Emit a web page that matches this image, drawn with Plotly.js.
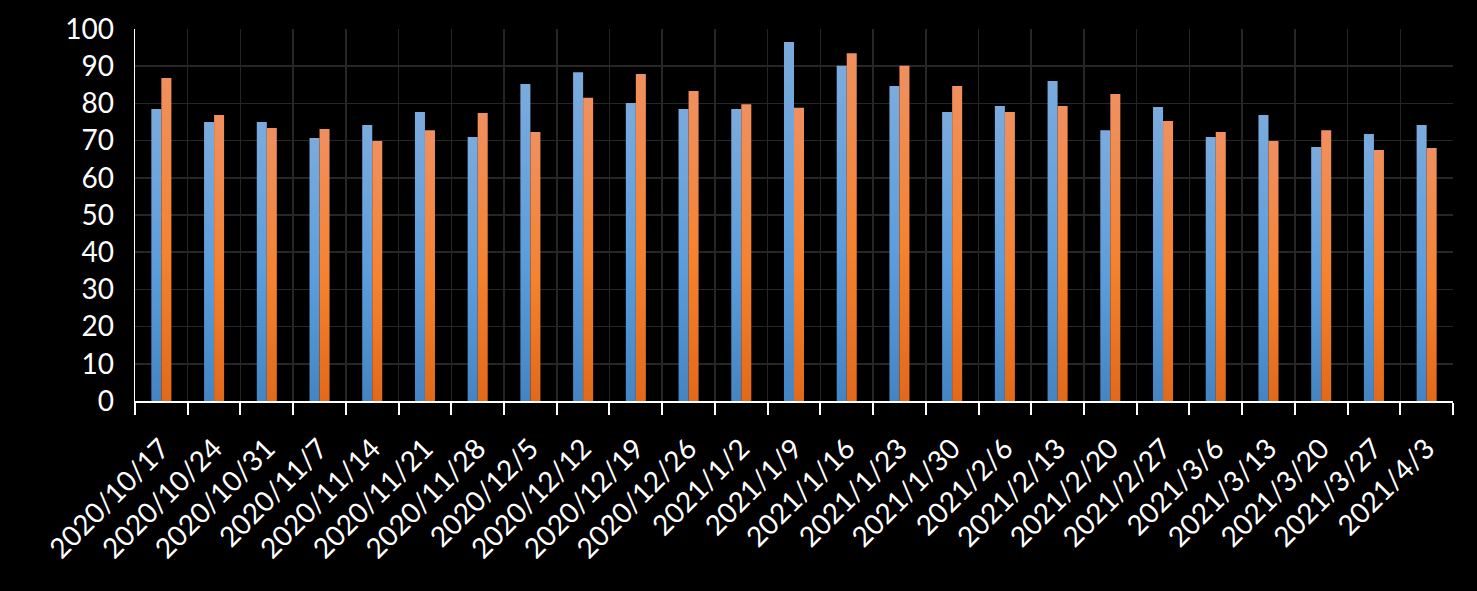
<!DOCTYPE html>
<html>
<head>
<meta charset="utf-8">
<script src="https://cdn.plot.ly/plotly-3.0.1.min.js"></script>
<style>
  html, body { margin: 0; padding: 0; background: #000; }
  #chart { width: 1477px; height: 591px; }
</style>
</head>
<body>
<div id="chart"></div>
<script>
const categories = [
  "2020/10/17","2020/10/24","2020/10/31","2020/11/7","2020/11/14","2020/11/21","2020/11/28",
  "2020/12/5","2020/12/12","2020/12/19","2020/12/26","2021/1/2","2021/1/9","2021/1/16",
  "2021/1/23","2021/1/30","2021/2/6","2021/2/13","2021/2/20","2021/2/27","2021/3/6",
  "2021/3/13","2021/3/20","2021/3/27","2021/4/3"
];
const seriesBlue = [
  78.5, 75.0, 75.0, 70.7, 74.2, 77.7, 71.0, 85.2, 88.4, 80.1, 78.5, 78.5, 96.5,
  90.1, 84.7, 77.7, 79.3, 86.0, 72.8, 79.0, 71.0, 76.9, 68.3, 71.8, 74.2
];
const seriesOrange = [
  86.8, 76.9, 73.4, 73.1, 69.9, 72.8, 77.4, 72.3, 81.5, 87.9, 83.3, 79.8, 78.8,
  93.5, 90.1, 84.7, 77.7, 79.3, 82.5, 75.3, 72.3, 69.9, 72.8, 67.5, 68.0
];
const yTicks = [0,10,20,30,40,50,60,70,80,90,100];

const traces = [
  { type: 'bar', name: 'Series 1', x: categories, y: seriesBlue,
    marker: { color: '#5b9bd5', line: { width: 0 } }, hoverinfo: 'x+y' },
  { type: 'bar', name: 'Series 2', x: categories, y: seriesOrange,
    marker: { color: '#ed7d31', line: { width: 0 } }, hoverinfo: 'x+y' }
];

const fontFam = 'Lato, "Open Sans", sans-serif';
const layout = {
  width: 1477, height: 591,
  paper_bgcolor: '#000', plot_bgcolor: '#000',
  margin: { l: 135, r: 24, t: 29, b: 190 },
  showlegend: false,
  barmode: 'group', bargap: 0.62, bargroupgap: 0,
  font: { family: fontFam, color: '#ffffff', size: 28 },
  xaxis: {
    type: 'category',
    tickangle: -45,
    tickson: 'boundaries',
    ticks: 'outside', ticklen: 12, tickwidth: 2, tickcolor: '#ffffff',
    ticklabelstandoff: 18,
    showline: true, linecolor: '#ffffff', linewidth: 2,
    showgrid: true, gridcolor: '#262626', gridwidth: 1.5,
    tickfont: { family: fontFam, size: 28, color: '#ffffff' },
    automargin: false
  },
  yaxis: {
    range: [0, 100],
    tickvals: yTicks,
    ticktext: yTicks.map(String),
    ticks: 'outside', ticklen: 14, tickcolor: 'rgba(0,0,0,0)',
    showline: true, linecolor: '#ffffff', linewidth: 1.5,
    showgrid: true, gridcolor: '#262626', gridwidth: 1.5,
    zeroline: false,
    tickfont: { family: fontFam, size: 28, color: '#ffffff' },
    automargin: false
  }
};

Plotly.newPlot('chart', traces, layout, { displayModeBar: false, staticPlot: true }).then(function (gd) {
  // Apply vertical gradients (light top -> dark bottom) to each bar, like the Office style
  const svg = gd.querySelector('svg.main-svg');
  const NS = 'http://www.w3.org/2000/svg';
  let defs = svg.querySelector('defs');
  if (!defs) { defs = document.createElementNS(NS, 'defs'); svg.insertBefore(defs, svg.firstChild); }
  function addGrad(id, stops) {
    const g = document.createElementNS(NS, 'linearGradient');
    g.setAttribute('id', id);
    g.setAttribute('x1', '0'); g.setAttribute('y1', '0');
    g.setAttribute('x2', '0'); g.setAttribute('y2', '1');
    stops.forEach(function (s) {
      const st = document.createElementNS(NS, 'stop');
      st.setAttribute('offset', s[0]);
      st.setAttribute('stop-color', s[1]);
      g.appendChild(st);
    });
    defs.appendChild(g);
  }
  addGrad('gradBlue', [[0, '#7babdd'], [0.55, '#5b9ddc'], [1, '#4484c3']]);
  addGrad('gradOrange', [[0, '#f0905f'], [0.55, '#f5822f'], [1, '#e2691a']]);
  const groups = gd.querySelectorAll('g.trace.bars');
  const ids = ['gradBlue', 'gradOrange'];
  groups.forEach(function (grp, i) {
    grp.querySelectorAll('path').forEach(function (p) {
      p.style.fill = 'url(#' + ids[i] + ')';
    });
  });
});
</script>
</body>
</html>
